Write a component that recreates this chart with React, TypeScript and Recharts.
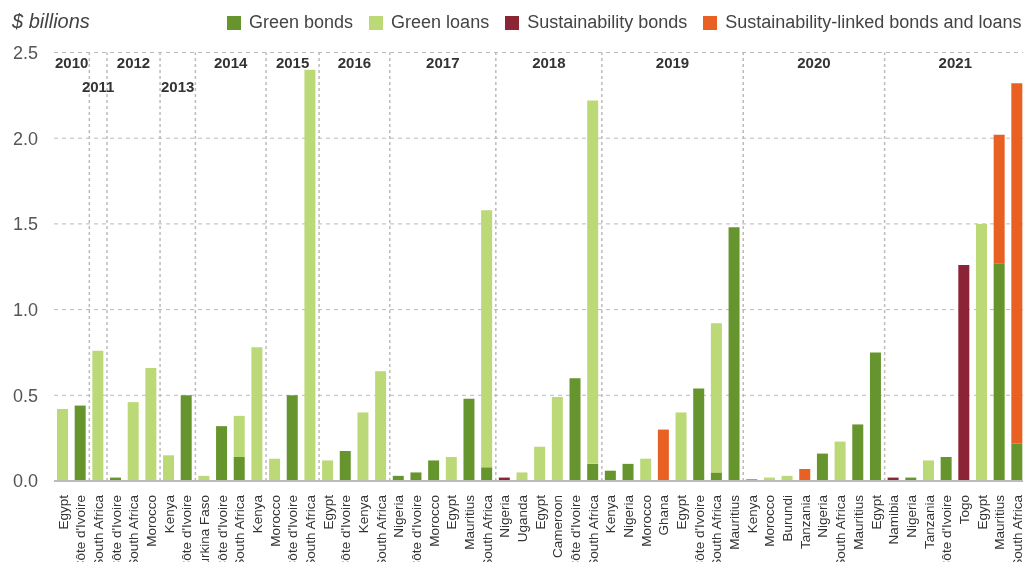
import { BarChart, Bar, XAxis, YAxis, CartesianGrid, ReferenceLine, ReferenceArea } from 'recharts';

// one entry per bar, left to right
const countries = [
  'Egypt', "Côte d'Ivoire",
  'South Africa',
  "Côte d'Ivoire", 'South Africa', 'Morocco',
  'Kenya', "Côte d'Ivoire",
  'Burkina Faso', "Côte d'Ivoire", 'South Africa', 'Kenya',
  'Morocco', "Côte d'Ivoire", 'South Africa',
  'Egypt', "Côte d'Ivoire", 'Kenya', 'South Africa',
  'Nigeria', "Côte d'Ivoire", 'Morocco', 'Egypt', 'Mauritius', 'South Africa',
  'Nigeria', 'Uganda', 'Egypt', 'Cameroon', "Côte d'Ivoire", 'South Africa',
  'Kenya', 'Nigeria', 'Morocco', 'Ghana', 'Egypt', "Côte d'Ivoire", 'South Africa', 'Mauritius',
  'Kenya', 'Morocco', 'Burundi', 'Tanzania', 'Nigeria', 'South Africa', 'Mauritius', 'Egypt',
  'Namibia', 'Nigeria', 'Tanzania', "Côte d'Ivoire", 'Togo', 'Egypt', 'Mauritius', 'South Africa',
];

const greenBonds = [
  0, 0.44,
  0,
  0.02, 0, 0,
  0, 0.5,
  0, 0.32, 0.14, 0,
  0, 0.5, 0,
  0, 0.175, 0, 0,
  0.03, 0.05, 0.12, 0, 0.48, 0.08,
  0, 0, 0, 0, 0.6, 0.1,
  0.06, 0.1, 0, 0, 0, 0.54, 0.05, 1.48,
  0.01, 0, 0, 0, 0.16, 0, 0.33, 0.75,
  0, 0.02, 0, 0.14, 0, 0, 1.27, 0.22,
];

const greenLoans = [
  0.42, 0,
  0.76,
  0, 0.46, 0.66,
  0.15, 0,
  0.03, 0, 0.24, 0.78,
  0.13, 0, 2.4,
  0.12, 0, 0.4, 0.64,
  0, 0, 0, 0.14, 0, 1.5,
  0, 0.05, 0.2, 0.49, 0, 2.12,
  0, 0, 0.13, 0, 0.4, 0, 0.87, 0,
  0, 0.02, 0.03, 0, 0, 0.23, 0, 0,
  0, 0, 0.12, 0, 0, 1.5, 0, 0,
];

const sustainabilityBonds = [
  0, 0,
  0,
  0, 0, 0,
  0, 0,
  0, 0, 0, 0,
  0, 0, 0,
  0, 0, 0, 0,
  0, 0, 0, 0, 0, 0,
  0.02, 0, 0, 0, 0, 0,
  0, 0, 0, 0, 0, 0, 0, 0,
  0, 0, 0, 0, 0, 0, 0, 0,
  0.02, 0, 0, 0, 1.26, 0, 0, 0,
];

const sustainabilityLinked = [
  0, 0,
  0,
  0, 0, 0,
  0, 0,
  0, 0, 0, 0,
  0, 0, 0,
  0, 0, 0, 0,
  0, 0, 0, 0, 0, 0,
  0, 0, 0, 0, 0, 0,
  0, 0, 0, 0.3, 0, 0, 0, 0,
  0, 0, 0, 0.07, 0, 0, 0, 0,
  0, 0, 0, 0, 0, 0, 0.75, 2.1,
];

const years = ['2010', '2011', '2012', '2013', '2014', '2015', '2016', '2017', '2018', '2019', '2020', '2021'];
const barsPerYear = [2, 1, 3, 2, 4, 3, 4, 6, 6, 8, 8, 8];
const yTicks = [0, 0.5, 1, 1.5, 2, 2.5];

const series = [
  { key: 'greenBonds', name: 'Green bonds', color: '#67952d' },
  { key: 'greenLoans', name: 'Green loans', color: '#bcd977' },
  { key: 'sustainabilityBonds', name: 'Sustainability bonds', color: '#8b2434' },
  { key: 'sustainabilityLinked', name: 'Sustainability-linked bonds and loans', color: '#e86022' },
];

const data = countries.map((country, i) => ({
  i,
  country,
  greenBonds: greenBonds[i],
  greenLoans: greenLoans[i],
  sustainabilityBonds: sustainabilityBonds[i],
  sustainabilityLinked: sustainabilityLinked[i],
}));

// year sections as index ranges on the numeric x axis
let start = -0.5;
const sections = years.map((year, k) => {
  const s = { year, x1: start, x2: start + barsPerYear[k] };
  start += barsPerYear[k];
  return s;
});

const CountryTick = ({ x, y, payload }: any) => {
  const ty = y + 12;
  return (
    <text
      x={x}
      y={ty}
      transform={`rotate(-90 ${x} ${ty})`}
      textAnchor="end"
      dy="0.35em"
      fontSize={13.5}
      fill="#333"
      fontFamily="Liberation Sans, Arial, sans-serif"
    >
      {countries[payload.value]}
    </text>
  );
};

export default function App() {
  // fixed so the page never grows scrollbars; the labels run off the bottom like the original
  return (
    <div style={{ position: 'fixed', left: 8, top: 8, width: 1015, height: 554, overflow: 'hidden', fontFamily: 'Liberation Sans, Arial, sans-serif' }}>
      <div style={{ position: 'absolute', left: 4, top: 2, fontSize: 20, fontStyle: 'italic', color: '#444' }}>$ billions</div>
      <div style={{ position: 'absolute', left: 219, top: 4, display: 'flex', gap: 16, fontSize: 18, color: '#444', whiteSpace: 'nowrap' }}>
        {series.map((s) => (
          <div key={s.key} style={{ display: 'flex', alignItems: 'center' }}>
            <span style={{ width: 14, height: 14, background: s.color, marginRight: 8, display: 'inline-block' }} />
            <span>{s.name}</span>
          </div>
        ))}
      </div>
      <BarChart width={1030} height={554} data={data} margin={{ top: 44.5, right: 12, left: 0, bottom: 0 }}>
        <CartesianGrid vertical={false} stroke="#bbb" strokeDasharray="4 4" />
        <XAxis
          dataKey="i"
          type="number"
          domain={[-0.5, 54.5]}
          ticks={data.map((d) => d.i)}
          interval={0}
          height={81}
          tickLine={false}
          tickSize={0}
          axisLine={{ stroke: '#bbb', strokeWidth: 2 }}
          tick={<CountryTick />}
        />
        <YAxis
          domain={[0, 2.5]}
          ticks={yTicks}
          width={46}
          tickLine={false}
          axisLine={false}
          tickSize={0}
          tickMargin={16}
          tickFormatter={(v: number) => v.toFixed(1)}
          tick={{ fontSize: 18, fill: '#555' }}
        />
        {sections.slice(1).map((s) => (
          <ReferenceLine key={s.year} x={s.x1} stroke="#bbb" strokeWidth={1.5} strokeDasharray="3 3" />
        ))}
        {sections.map((s) => (
          <ReferenceArea
            key={'a' + s.year}
            x1={s.x1}
            x2={s.x2}
            fill="none"
            fillOpacity={0}
            stroke="none"
            label={{
              value: s.year,
              position: 'insideTop',
              offset: s.year === '2011' || s.year === '2013' ? 29 : 5,
              fontSize: 15,
              fontWeight: 'bold',
              fill: '#333',
            }}
          />
        ))}
        {series.map((s) => (
          <Bar key={s.key} dataKey={s.key} name={s.name} stackId="a" fill={s.color} barSize={11} isAnimationActive={false} />
        ))}
      </BarChart>
    </div>
  );
}
